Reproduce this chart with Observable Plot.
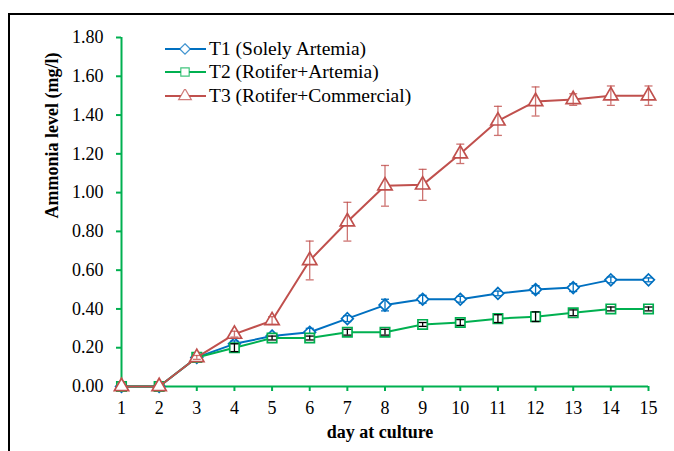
<!DOCTYPE html>
<html>
<head>
<meta charset="utf-8">
<script src="https://cdn.jsdelivr.net/npm/d3@7"></script>
<script src="https://cdn.jsdelivr.net/npm/@observablehq/plot@0.6"></script>
<style>
  html, body { margin: 0; padding: 0; background: #fff; }
  #wrap { position: relative; width: 674px; height: 451px; overflow: hidden; font-family: "Liberation Serif", "Times New Roman", serif; }
  #border { position: absolute; left: 8px; top: 13px; width: 800px; height: 600px; border-left: 2px solid #000; border-top: 2px solid #000; }
  #chart { position: absolute; left: 0; top: 0; }
  #legend { position: absolute; left: 164px; top: 37px; font-family: "Liberation Serif", serif; font-size: 19.5px; color: #000; }
  #legend .row { display: flex; align-items: center; white-space: nowrap; height: 23.5px; }
  #legend svg { margin-right: 1px; flex: none; }
</style>
</head>
<body>
<div id="wrap">
  <div id="border"></div>
  <div id="chart"></div>
  <div id="legend"></div>
</div>
<script>
const days = [1,2,3,4,5,6,7,8,9,10,11,12,13,14,15];
const seriesNames = ["T1 (Solely Artemia)", "T2 (Rotifer+Artemia)", "T3 (Rotifer+Commercial)"];
const t1Values = [0, 0, 0.15, 0.22, 0.26, 0.28, 0.35, 0.42, 0.45, 0.45, 0.48, 0.50, 0.51, 0.55, 0.55];
const t1Errors = [0, 0, 0.01, 0.015, 0.01, 0.02, 0.015, 0.03, 0.02, 0.015, 0.012, 0.02, 0.02, 0.015, 0.01];
const t2Values = [0, 0, 0.15, 0.20, 0.25, 0.25, 0.28, 0.28, 0.32, 0.33, 0.35, 0.36, 0.38, 0.40, 0.40];
const t2Errors = [0, 0, 0.01, 0.02, 0.01, 0.01, 0.015, 0.015, 0.01, 0.015, 0.02, 0.025, 0.015, 0.01, 0.01];
const t3Values = [0, 0, 0.15, 0.27, 0.34, 0.65, 0.85, 1.035, 1.04, 1.20, 1.37, 1.47, 1.48, 1.50, 1.50];
const t3Errors = [0, 0, 0.01, 0.015, 0.02, 0.10, 0.10, 0.105, 0.08, 0.05, 0.075, 0.075, 0.03, 0.05, 0.05];
const yTicks = [0, 0.2, 0.4, 0.6, 0.8, 1.0, 1.2, 1.4, 1.6, 1.8];
const xTicks = days;
const yTitle = "Ammonia level (mg/l)";
const xTitle = "day at culture";

const colors = ["#0070C0", "#00B050", "#C0504D"];
const errColors = ["#0070C0", "#000000", "#C0504D"];
const symbols = ["diamond2", "square", "triangle"];
const axisGreen = "#00B050";

const allValues = [t1Values, t2Values, t3Values];
const allErrors = [t1Errors, t2Errors, t3Errors];
const data = [];
seriesNames.forEach((s, i) => {
  days.forEach((d, j) => {
    data.push({series: s, idx: i, day: d, value: allValues[i][j], err: allErrors[i][j]});
  });
});

const capSymbol = {
  draw(context, size) {
    const w = 4;
    context.moveTo(-w, 0);
    context.lineTo(w, 0);
  }
};

const marks = [];
marks.push(Plot.ruleY([0], {stroke: axisGreen, strokeWidth: 2}));
marks.push(Plot.ruleX([days[0]], {stroke: axisGreen, strokeWidth: 2}));
marks.push(Plot.axisY({ticks: yTicks, tickFormat: d3.format(".2f"), tickSize: 5, tickPadding: 13, stroke: axisGreen, strokeWidth: 2, strokeOpacity: 1, color: "#000", fontSize: 18, label: null}));
marks.push(Plot.axisX({ticks: xTicks, tickFormat: d3.format("d"), tickSize: 5, tickPadding: 10, stroke: axisGreen, strokeWidth: 2, strokeOpacity: 1, color: "#000", fontSize: 18, label: null}));

seriesNames.forEach((s, i) => {
  const sd = data.filter(d => d.idx === i);
  const ed = sd.filter(d => d.err > 0);
  const eo = i === 2 ? 0.8 : 1;
  marks.push(Plot.line(sd, {x: "day", y: "value", stroke: colors[i], strokeWidth: 2}));
  marks.push(Plot.dot(sd, {x: "day", y: "value", symbol: symbols[i], r: 5.3, stroke: colors[i], strokeWidth: 1.7, fill: "white"}));
  marks.push(Plot.ruleX(ed, {x: "day", y1: d => d.value - d.err, y2: d => d.value + d.err, stroke: errColors[i], strokeWidth: 1.3, strokeOpacity: eo}));
  marks.push(Plot.dot(ed, {x: "day", y: d => d.value - d.err, symbol: capSymbol, stroke: errColors[i], strokeWidth: 1.3, strokeOpacity: eo}));
  marks.push(Plot.dot(ed, {x: "day", y: d => d.value + d.err, symbol: capSymbol, stroke: errColors[i], strokeWidth: 1.3, strokeOpacity: eo}));
});

marks.push(Plot.text([yTitle], {frameAnchor: "left", rotate: -90, dx: -69, dy: 6.5, fontWeight: "bold", fontSize: 18, fill: "#000"}));
marks.push(Plot.text([xTitle], {frameAnchor: "bottom", dx: -5, dy: 51, fontWeight: "bold", fontSize: 18, fill: "#000"}));

const chart = Plot.plot({
  width: 674,
  height: 451,
  marginLeft: 121,
  marginRight: 26,
  marginTop: 37,
  marginBottom: 65,
  x: {domain: [1, 15]},
  y: {domain: [0, 1.8]},
  style: {fontFamily: "'Liberation Serif', 'Times New Roman', serif", background: "transparent", overflow: "visible"},
  marks
});
document.getElementById("chart").appendChild(chart);

// legend
const legend = document.getElementById("legend");
const symGen = [d3.symbolDiamond2, d3.symbolSquare, d3.symbolTriangle];
seriesNames.forEach((s, i) => {
  const row = document.createElement("div");
  row.className = "row";
  const svg = d3.create("svg").attr("width", 44).attr("height", 14);
  svg.append("line").attr("x1", 1).attr("x2", 42).attr("y1", 7).attr("y2", 7).attr("stroke", colors[i]).attr("stroke-width", 2);
  svg.append("path").attr("d", d3.symbol(symGen[i], 70)()).attr("transform", "translate(21,7)").attr("fill", "white").attr("stroke", colors[i]).attr("stroke-width", 1.2).attr("stroke-opacity", 0.75);
  row.appendChild(svg.node());
  const span = document.createElement("span");
  span.textContent = s;
  row.appendChild(span);
  legend.appendChild(row);
});
</script>
</body>
</html>
